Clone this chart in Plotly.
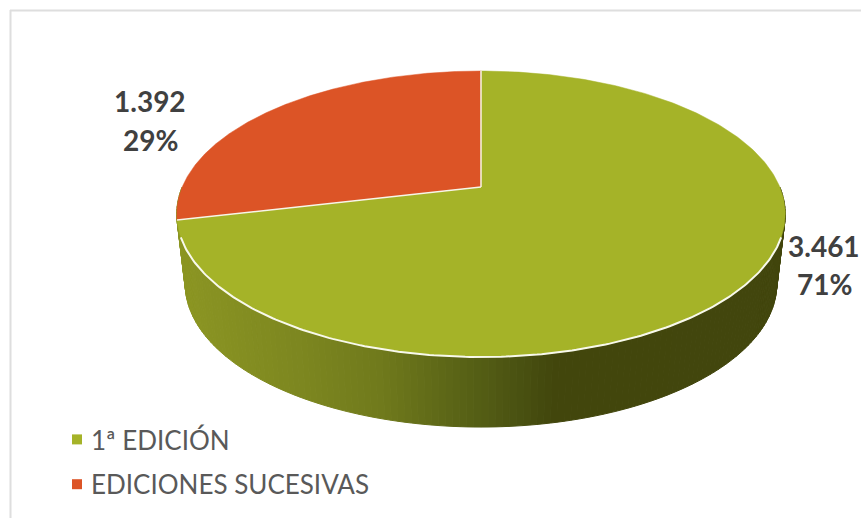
import numpy as np
import plotly.graph_objects as go

categories = ["1ª EDICIÓN", "EDICIONES SUCESIVAS"]
values = [3461, 1392]
colors = ["#A5B328", "#DC5426"]
label_centers = [(824, 246, 284), (150, 101, 140)]

W, H = 861, 518
CX, CY = 481, 187
A, B, K = 137.9, 298.8, 0.189
DEPTH = 70
BOTTOM_SCALE = 0.972

total = sum(values)
fractions = [v / total for v in values]


def rim(theta):
    w = 1 + K * np.cos(theta)
    return CX + B * np.sin(theta) / w, CY - A * np.cos(theta) / w


def lerp_color(x):
    stops = [(177, (140, 150, 35)), (300, (125, 135, 32)), (380, (112, 122, 28)), (450, (92, 102, 23)),
             (520, (74, 82, 18)), (555, (66, 70, 12)), (790, (67, 71, 14))]
    xs = [s[0] for s in stops]
    rgb = [np.interp(x, xs, [s[1][i] for s in stops]) for i in range(3)]
    return "rgb(%d,%d,%d)" % tuple(int(c) for c in rgb)


fig = go.Figure()

# side wall, drawn as thin strips to give the shading
edges = np.linspace(np.radians(90), np.radians(270), 161)
for t0, t1 in zip(edges[:-1], edges[1:]):
    x0, y0 = rim(t0)
    x1, y1 = rim(t1)
    xb0 = CX + (x0 - CX) * BOTTOM_SCALE
    xb1 = CX + (x1 - CX) * BOTTOM_SCALE
    c = lerp_color((x0 + x1) / 2)
    fig.add_trace(go.Scatter(
        x=[x0, x1, xb1, xb0, x0], y=[y0, y1, y1 + DEPTH, y0 + DEPTH, y0],
        mode="lines", fill="toself", fillcolor=c, line=dict(color=c, width=1),
        hoverinfo="skip", showlegend=False))

# top faces
start = 0.0
for f, c in zip(fractions, colors):
    th = np.linspace(start, start + f * 2 * np.pi, 300)
    x, y = rim(th)
    fig.add_trace(go.Scatter(
        x=[CX, *x, CX], y=[CY, *y, CY], mode="lines", fill="toself", fillcolor=c,
        line=dict(color=c, width=0.5), hoverinfo="skip", showlegend=False))
    start += f * 2 * np.pi

# white radii between the slices
start = 0.0
for f in fractions:
    x, y = rim(np.array([start]))
    fig.add_trace(go.Scatter(x=[CX, x[0]], y=[CY, y[0]], mode="lines", line=dict(color="#F6F7E8", width=1.5),
                             hoverinfo="skip", showlegend=False))
    start += f * 2 * np.pi

# white front rim
x, y = rim(np.radians(np.linspace(110, 250, 200)))
fig.add_trace(go.Scatter(x=x, y=y, mode="lines", line=dict(color="#F8F9EC", width=2),
                         hoverinfo="skip", showlegend=False))

# legend entries
for c, name in zip(colors, categories):
    fig.add_trace(go.Scatter(
        x=[None], y=[None], mode="markers", name=name, legendgroup=name,
        marker=dict(symbol="square", size=10, color=c)))

for v, f, (lx, y1, y2) in zip(values, fractions, label_centers):
    for txt, ly in ((f"{v:,}".replace(",", "."), y1), (f"{f:.0%}", y2)):
        fig.add_annotation(x=lx, y=ly, text=txt, showarrow=False, xanchor="center", yanchor="middle",
                           font=dict(family="Lato", size=28, color="#404040", weight="bold"))

fig.update_layout(
    width=W, height=H, margin=dict(l=0, r=0, t=0, b=0),
    paper_bgcolor="white", plot_bgcolor="white",
    xaxis=dict(range=[0, W], visible=False, fixedrange=True),
    yaxis=dict(range=[H, 0], visible=False, fixedrange=True),
    legend=dict(x=56 / W, y=1 - 416 / H, xanchor="left", yanchor="top", tracegroupgap=8, indentation=-5,
                font=dict(family="Lato", size=26, color="#595959"), bgcolor="rgba(0,0,0,0)"),
    shapes=[
        dict(type="line", xref="x", yref="y", x0=10.5, x1=10.5, y0=10, y1=H, line=dict(color="#DEDEDE", width=2)),
        dict(type="line", xref="x", yref="y", x0=10, x1=W, y0=10.5, y1=10.5, line=dict(color="#DEDEDE", width=2)),
    ],
)
fig.write_html(
    "out.html",
    config={"displayModeBar": False},
    post_script=(
        "document.body.style.margin='0';document.documentElement.style.overflow='hidden';"
        "setTimeout(function(){document.querySelectorAll('.legendsymbols').forEach("
        "function(n){n.setAttribute('transform','translate(6,0)');});},50);"
    ),
)
